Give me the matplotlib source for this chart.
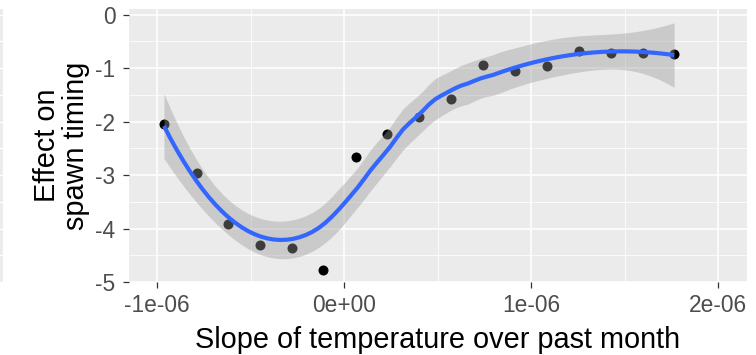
import math
import numpy as np
import matplotlib
matplotlib.use("Agg")
import matplotlib.pyplot as plt

plt.rcParams['font.family'] = ['Liberation Sans', 'DejaVu Sans']

# ---- data ----
slope = np.array([-0.963, -0.788, -0.620, -0.449, -0.278, -0.111, 0.063, 0.232, 0.403,
                  0.574, 0.745, 0.914, 1.087, 1.255, 1.426, 1.597, 1.765]) * 1e-6
effect = np.array([-2.045, -2.97, -3.915, -4.31, -4.36, -4.78, -2.67, -2.24, -1.905,
                   -1.58, -0.95, -1.06, -0.96, -0.68, -0.71, -0.72, -0.73])
x_ticks = [-1e-6, 0.0, 1e-6, 2e-6]
x_tick_labels = ["-1e-06", "0e+00", "1e-06", "2e-06"]
y_ticks = [0, -1, -2, -3, -4, -5]
y_tick_labels = ["0", "-1", "-2", "-3", "-4", "-5"]


# ---- loess (degree 2, span 0.75) like ggplot2's geom_smooth ----
def loess_weights_row(x0, xs, q):
    d = np.abs(xs - x0)
    h = np.sort(d)[q - 1]
    u = np.clip(d / h, 0, 1)
    w = (1 - u ** 3) ** 3
    X = np.column_stack([np.ones_like(xs), xs - x0, (xs - x0) ** 2])
    W = np.diag(w)
    A = X.T @ W @ X
    coef_map = np.linalg.solve(A, X.T @ W)
    return coef_map[0]


def t_quantile(p, df):
    def pdf(t):
        c = math.exp(math.lgamma((df + 1) / 2) - math.lgamma(df / 2)) / math.sqrt(df * math.pi)
        return c * (1 + t * t / df) ** (-(df + 1) / 2)

    def cdf(t):
        ts = np.linspace(0, t, 2001)
        vals = np.array([pdf(v) for v in ts])
        return 0.5 + np.trapezoid(vals, ts)

    lo, hi = 0.0, 20.0
    for _ in range(50):
        mid = (lo + hi) / 2
        if cdf(mid) < p:
            lo = mid
        else:
            hi = mid
    return (lo + hi) / 2


xs = slope * 1e6
n = len(xs)
q = int(math.floor(n * 0.75))
L = np.array([loess_weights_row(x0, xs, q) for x0 in xs])
IL = np.eye(n) - L
M = IL.T @ IL
d1 = np.trace(M)
d2 = np.trace(M @ M)
resid = effect - L @ effect
sigma = math.sqrt(np.sum(resid ** 2) / d1)
dof = d1 ** 2 / d2
tq = t_quantile(0.975, dof)

grid = np.linspace(xs.min(), xs.max(), 80)
Lg = np.array([loess_weights_row(x0, xs, q) for x0 in grid])
fit = Lg @ effect
se = sigma * np.sqrt(np.sum(Lg ** 2, axis=1))
grid_x = grid * 1e-6

# ---- figure ----
W, H = 756, 355
fig = plt.figure(figsize=(W / 100, H / 100), dpi=100)
fig.patch.set_facecolor('white')

px_l, px_r, px_t, px_b = 129, 747, 9, 282
ax = fig.add_axes([px_l / W, 1 - px_b / H, (px_r - px_l) / W, (px_b - px_t) / H])
ax.set_facecolor('#EBEBEB')
for s in ax.spines.values():
    s.set_visible(False)

ax.set_xlim(-1.150e-6, 2.155e-6)
ax.set_ylim(-5.0, 0.106)

ax.set_xticks(x_ticks)
ax.set_xticklabels(x_tick_labels)
ax.set_yticks(y_ticks)
ax.set_yticklabels(y_tick_labels)
ax.set_xticks([-0.5e-6, 0.5e-6, 1.5e-6], minor=True)
ax.set_yticks([-0.5, -1.5, -2.5, -3.5, -4.5], minor=True)
ax.grid(which='major', color='white', linewidth=1.1)
ax.grid(which='minor', color='white', linewidth=0.55)
ax.set_axisbelow(True)
ax.tick_params(which='minor', length=0)
ax.tick_params(which='major', length=4.3, width=0.9, color='#333333',
               labelcolor='#4D4D4D', labelsize=16.4)
ax.tick_params(axis='x', pad=4.5)
ax.tick_params(axis='y', pad=5.5)

ax.scatter(slope, effect, s=52, color='black', zorder=2, linewidths=0)
ax.fill_between(grid_x, fit - tq * se, fit + tq * se, color='#999999', alpha=0.4,
                linewidth=0, zorder=3)
ax.plot(grid_x, fit, color='#3366FF', linewidth=3.0, zorder=4, solid_capstyle='butt')

ax.set_xlabel('Slope of temperature over past month', fontsize=20.8, color='black',
              labelpad=6)
ax.set_ylabel('Effect on\nspawn timing', fontsize=20.8, color='black', labelpad=4,
              linespacing=1.05)

# sliver of a neighbouring panel at the far left edge
ax2 = fig.add_axes([0, 1 - px_b / H, 3 / W, (px_b - px_t) / H])
ax2.set_facecolor('#EBEBEB')
for s in ax2.spines.values():
    s.set_visible(False)
ax2.set_ylim(-5.0, 0.106)
ax2.set_xticks([])
ax2.set_yticks(y_ticks)
ax2.set_yticks([-0.5, -1.5, -2.5, -3.5, -4.5], minor=True)
ax2.grid(which='both', axis='y', color='white', linewidth=1.0)
ax2.tick_params(which='both', length=0, labelleft=False)

fig.savefig('out.png', dpi=100)
